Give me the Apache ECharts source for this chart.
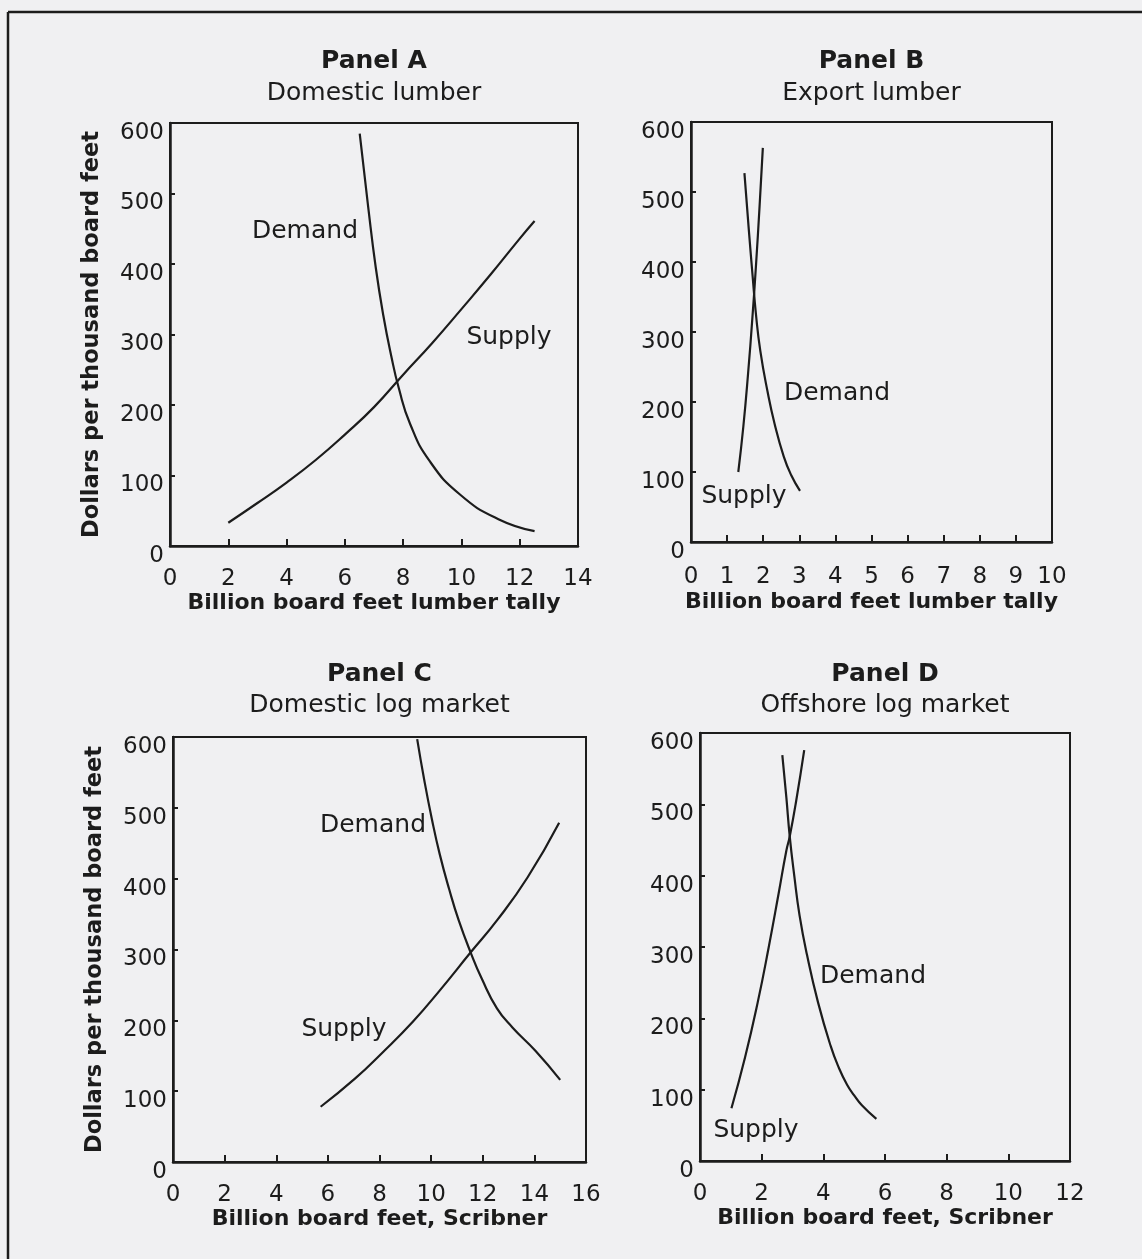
<!DOCTYPE html>
<html>
<head>
<meta charset="utf-8">
<style>
  html, body { margin: 0; padding: 0; background: #f0f0f2; }
  #chart { width: 1142px; height: 1259px; }
</style>
<script src="https://cdn.jsdelivr.net/npm/echarts@6/dist/echarts.min.js"></script>
</head>
<body>
<div id="chart"></div>
<script>
// ---------- data (billion board feet, dollars per thousand board feet) ----------
const panelTitles = ['Panel A', 'Panel B', 'Panel C', 'Panel D'];
const panelSubtitles = ['Domestic lumber', 'Export lumber', 'Domestic log market', 'Offshore log market'];
const xAxisTitles = ['Billion board feet lumber tally', 'Billion board feet lumber tally',
                     'Billion board feet, Scribner', 'Billion board feet, Scribner'];
const yAxisTitle = 'Dollars per thousand board feet';
const xMax = [14, 10, 16, 12];
const xStep = [2, 1, 2, 2];
const yMax = 600;
const yStep = 100;

const supplyA = [[2.0, 33], [3.0, 61], [4.0, 90], [5.0, 122], [6.0, 158], [7.0, 197],
                 [8.0, 243], [9.0, 288], [10.0, 336], [11.0, 385], [12.0, 436], [12.51, 461]];
const demandA = [[6.51, 585], [6.80, 481], [7.06, 395], [7.32, 327], [7.59, 270], [7.85, 224],
                 [8.24, 173], [8.90, 121], [9.95, 73], [11.27, 38], [12.51, 21]];

const supplyB = [[1.31, 100], [1.45, 165], [1.58, 240], [1.70, 320], [1.80, 395],
                 [1.90, 480], [1.99, 563]];
const demandB = [[1.48, 527], [1.60, 447], [1.71, 378], [1.80, 325], [1.92, 273],
                 [2.12, 215], [2.32, 168], [2.57, 122], [2.77, 96], [3.02, 73]];

const supplyC = [[5.72, 78], [7.06, 118], [8.10, 154], [9.29, 198], [10.33, 242],
                 [11.51, 295], [12.55, 341], [13.74, 402], [14.96, 479]];
const demandC = [[9.46, 597], [9.73, 540], [10.03, 484], [10.33, 435], [10.70, 385],
                 [11.07, 341], [11.54, 295], [11.96, 259], [12.55, 217], [13.15, 190],
                 [14.04, 157], [15.0, 116]];

const supplyD = [[1.02, 74], [1.46, 145], [1.87, 222], [2.23, 300], [2.55, 375],
                 [2.80, 435], [2.91, 455], [3.12, 505], [3.38, 576]];
const demandD = [[2.67, 569], [2.80, 510], [2.91, 455], [3.06, 399], [3.23, 344],
                 [3.47, 289], [3.83, 222], [4.24, 161], [4.50, 131], [4.77, 107],
                 [5.0, 92], [5.25, 78], [5.72, 59]];

const curveLabels = ['Supply', 'Demand'];

// ---------- layout ----------
const FONT = "'DejaVu Sans', 'Liberation Sans', sans-serif";
const INK = '#1c1c1c';
const grids = [
  { left: 170, top: 123, width: 408, height: 423 },
  { left: 691, top: 122, width: 361, height: 420 },
  { left: 173, top: 737, width: 413, height: 425 },
  { left: 700, top: 733, width: 370, height: 428 }
];
const xNameGap = [44, 49, 46, 44];
const xLabelMargin = [22, 24, 22, 22];
const titleY = [[61, 93], [61, 93], [674, 705], [674, 705]];
// label positions (pixel centres) for [Supply, Demand] per panel
const labelPos = [
  [[509, 337], [305, 231]],
  [[744, 496], [837, 393]],
  [[344, 1029], [373, 825]],
  [[756, 1130], [873, 976]]
];

const seriesData = [[supplyA, demandA], [supplyB, demandB], [supplyC, demandC], [supplyD, demandD]];

const chart = echarts.init(document.getElementById('chart'), null, { renderer: 'canvas' });

const option = {
  backgroundColor: '#f0f0f2',
  animation: false,
  grid: grids.map(g => Object.assign({
    show: true, borderColor: INK, borderWidth: 2, backgroundColor: 'transparent', containLabel: false
  }, g)),
  xAxis: grids.map((g, i) => ({
    type: 'value', gridIndex: i, min: 0, max: xMax[i], interval: xStep[i],
    name: xAxisTitles[i], nameLocation: 'middle', nameGap: xNameGap[i],
    nameTextStyle: { fontFamily: FONT, fontSize: 22, fontWeight: 'bold', color: INK },
    axisLine: { show: true, lineStyle: { color: INK, width: 2.5 } },
    axisTick: { show: true, inside: true, length: 7, lineStyle: { color: INK, width: 2 } },
    splitLine: { show: false },
    axisLabel: { fontFamily: FONT, fontSize: 23, color: INK, margin: xLabelMargin[i] }
  })),
  yAxis: grids.map((g, i) => ({
    type: 'value', gridIndex: i, min: 0, max: yMax, interval: yStep,
    name: (i === 0 || i === 2) ? yAxisTitle : '', nameLocation: 'middle', nameGap: 66,
    nameTextStyle: { fontFamily: FONT, fontSize: 22.5, fontWeight: 'bold', color: INK },
    axisLine: { show: true, lineStyle: { color: INK, width: 2.5 } },
    axisTick: { show: true, inside: true, length: 5, lineStyle: { color: INK, width: 2 } },
    splitLine: { show: false },
    axisLabel: { fontFamily: FONT, fontSize: 23, color: INK, margin: 6,
                 verticalAlign: 'top', lineHeight: 20 }
  })),
  series: [],
  graphic: []
};

seriesData.forEach((pair, i) => {
  pair.forEach((data, k) => {
    option.series.push({
      type: 'line', name: curveLabels[k], xAxisIndex: i, yAxisIndex: i,
      data: data, showSymbol: false, smooth: 0.5,
      lineStyle: { color: INK, width: 2.2 }, silent: true
    });
  });
});

const elems = [];
// outer frame (left and top edges of the scanned figure box)
elems.push({ type: 'line', shape: { x1: 8, y1: 12, x2: 8, y2: 1259 }, style: { stroke: INK, lineWidth: 2.5 } });
elems.push({ type: 'line', shape: { x1: 8, y1: 12, x2: 1142, y2: 12 }, style: { stroke: INK, lineWidth: 2.5 } });

grids.forEach((g, i) => {
  const cx = g.left + g.width / 2;
  elems.push({ type: 'text', x: cx, y: titleY[i][0],
    style: { text: panelTitles[i], font: 'bold 25px ' + FONT, fill: INK, align: 'center', verticalAlign: 'middle' } });
  elems.push({ type: 'text', x: cx, y: titleY[i][1],
    style: { text: panelSubtitles[i], font: '25px ' + FONT, fill: INK, align: 'center', verticalAlign: 'middle' } });
  labelPos[i].forEach((p, k) => {
    elems.push({ type: 'text', x: p[0], y: p[1],
      style: { text: curveLabels[k], font: '25px ' + FONT, fill: INK, align: 'center', verticalAlign: 'middle' } });
  });
});
option.graphic = elems;

chart.setOption(option);
</script>
</body>
</html>
